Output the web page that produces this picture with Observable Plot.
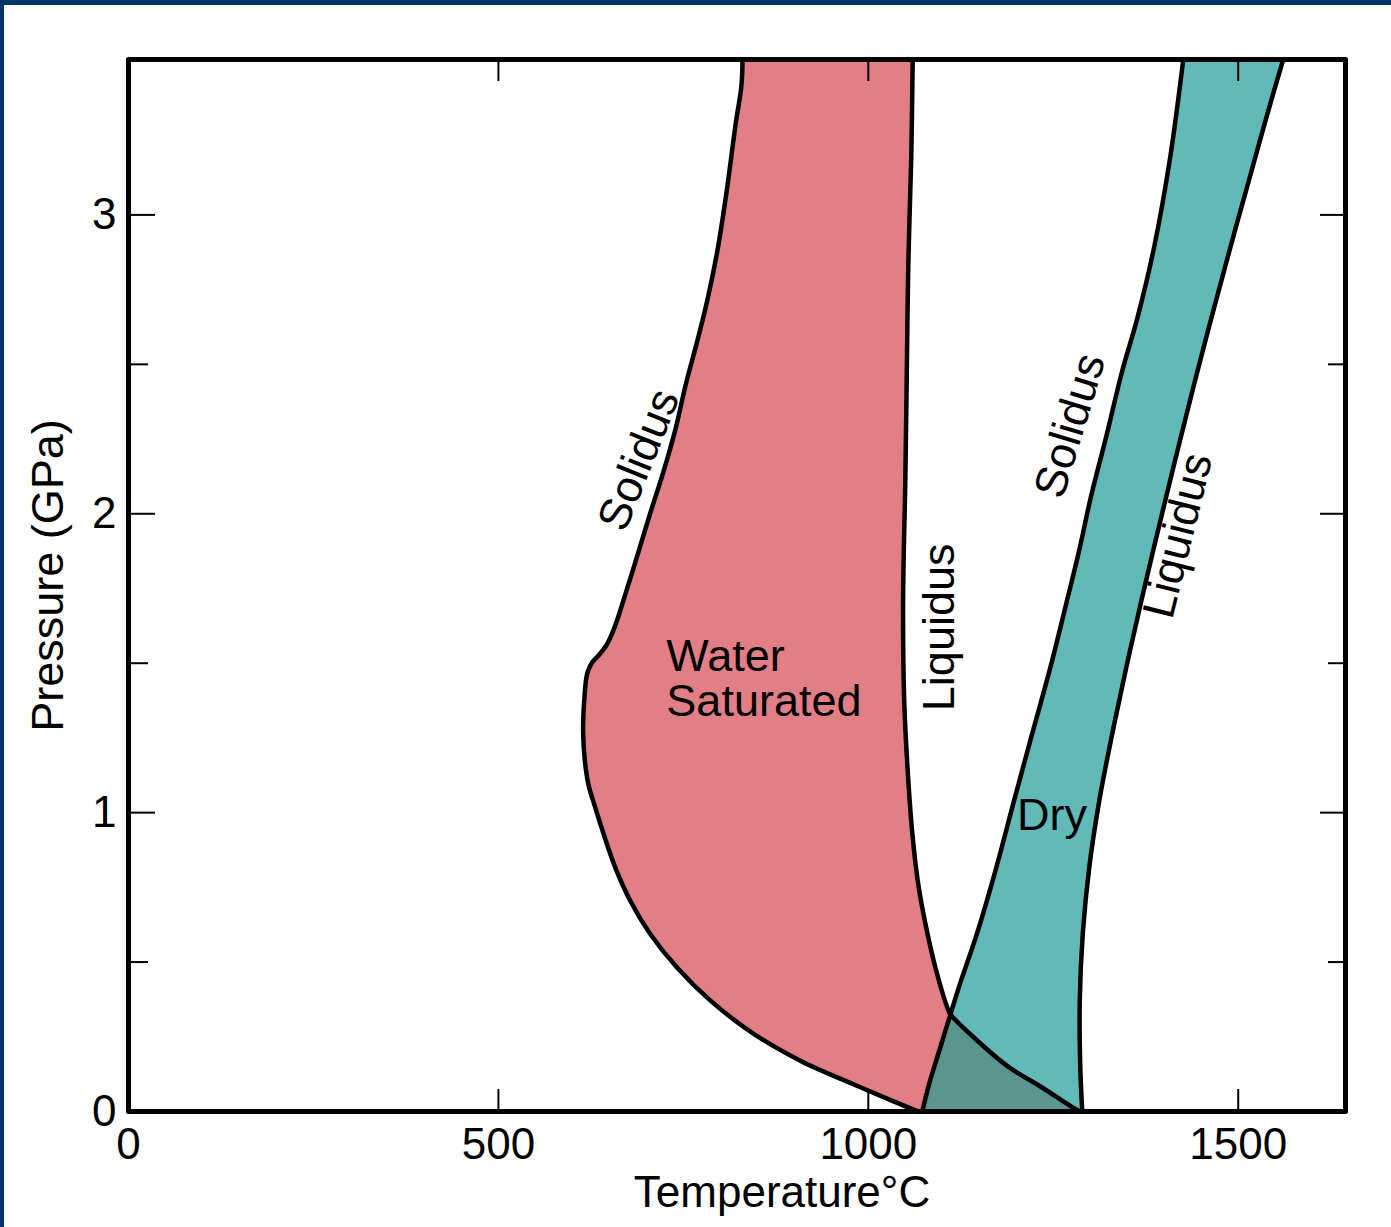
<!DOCTYPE html>
<html><head><meta charset="utf-8">
<script src="https://cdn.jsdelivr.net/npm/d3@7"></script>
<script src="https://cdn.jsdelivr.net/npm/@observablehq/plot@0.6"></script>
<style>
html,body{margin:0;padding:0;background:#fff;}
#wrap{position:relative;width:1391px;height:1227px;overflow:hidden;background:#fff;}
#chart{position:absolute;left:0;top:0;}
.bar{position:absolute;background:#003366;}
</style></head><body>
<div id="wrap"><div id="chart"></div>
<div class="bar" style="left:0;top:0;width:1391px;height:5px"></div>
<div class="bar" style="left:0;top:0;width:4px;height:1227px"></div></div>
<script>
// Axis domains and ticks
const xDomain = [0, 1645];
const yDomain = [0, 3.52];
const xTickLabels = [0, 500, 1000, 1500];
const xTicks = [500, 1000, 1500];
const yTickLabels = [0, 1, 2, 3];
const yMajorTicks = [1, 2, 3];
const yMinorTicks = [0.5, 1.5, 2.5];

// Curves: [Temperature °C, Pressure GPa]
const wetSolidus = [
  [830, 3.52], [828.4, 3.43], [821, 3.31], [808, 3.07], [796, 2.88], [782, 2.71], [768, 2.57],
  [754, 2.44], [739, 2.28], [723, 2.14], [705, 2.00], [686.5, 1.85], [669, 1.71], [657, 1.62],
  [646, 1.56], [635, 1.525], [626, 1.50], [620, 1.465], [616, 1.375], [614.5, 1.27], [617, 1.17],
  [622, 1.09], [628, 1.04], [642, 0.93], [658, 0.816], [678, 0.706], [705, 0.595], [742, 0.48],
  [787, 0.37], [845, 0.26], [908, 0.17], [979, 0.092], [1034, 0.034], [1068, 0]
];
const wetLiquidus = [
  [1060, 3.52], [1058, 3.19], [1054, 2.83], [1052, 2.47], [1050, 2.11], [1047, 1.71],
  [1048.5, 1.375], [1053, 1.15], [1059.5, 0.93], [1067.5, 0.76], [1080, 0.595], [1093, 0.46],
  [1108, 0.34], [1111, 0.325], [1146, 0.24], [1189, 0.15], [1237, 0.077], [1274, 0.017], [1286, 0]
];
const drySolidus = [
  [1073, 0], [1082.4, 0.094], [1096, 0.204], [1111, 0.325], [1124, 0.428], [1147, 0.596],
  [1173, 0.816], [1197, 1.04], [1221.6, 1.265], [1246, 1.485], [1267.6, 1.70], [1285, 1.877],
  [1301, 2.058], [1321.6, 2.258], [1343, 2.476], [1363.5, 2.653], [1386.5, 2.894], [1408, 3.192],
  [1425.7, 3.52]
];
const dryLiquidus = [
  [1560.8, 3.52], [1547.3, 3.406], [1529.7, 3.252], [1512.2, 3.095], [1495.9, 2.951],
  [1477.7, 2.784], [1459.5, 2.616], [1438.5, 2.415], [1420.3, 2.235], [1402.7, 2.058],
  [1385.1, 1.877], [1368.2, 1.70], [1348.6, 1.485], [1329.7, 1.264], [1312.2, 1.04],
  [1298.6, 0.816], [1289.9, 0.596], [1285.8, 0.371], [1286.5, 0.147], [1289.2, 0]
];
const crossP = 0.325; // where the dry solidus meets the water-saturated liquidus

// Text annotations (anchored in data units)
const curveLabels = [
  {text: "Solidus", T: 690, P: 2.18, angle: -68},
  {text: "Liquidus", T: 1097, P: 1.62, angle: -90},
  {text: "Solidus", T: 1273, P: 2.295, angle: -73},
  {text: "Liquidus", T: 1419, P: 1.927, angle: -76}
];
const regionLabels = [
  {text: "Water\nSaturated", T: 727, P: 1.325},
  {text: "Dry", T: 1201, P: 0.943}
];
const xTitle = ["Temperature°C"];
const yTitle = ["Pressure (GPa)"];

// colours
const pink = "#e17e86", teal = "#61bab8", dark = "#5a958e";

const pts = arr => arr.map(([T, P]) => ({T, P}));
const lastOf = arr => arr[arr.length - 1];
// corner points are repeated so the spline turns sharply there
const wetBand = pts([...wetSolidus, lastOf(wetSolidus), lastOf(wetLiquidus), ...wetLiquidus.slice().reverse()]);
const dryBand = pts([...drySolidus, lastOf(drySolidus), dryLiquidus[0], ...dryLiquidus]);
const lowDry = drySolidus.filter(d => d[1] <= crossP);
const overlap = pts([...lowDry, lastOf(lowDry), ...wetLiquidus.filter(d => d[1] <= crossP)]);

const W = 1391, H = 1227, mL = 128, mR = 46, mT = 59, mB = 116;
const plotW = W - mL - mR, plotH = H - mT - mB;
const font = '"Liberation Sans", Arial, Helvetica, sans-serif';

const lineOpts = {x: "T", y: "P", stroke: "#000", strokeWidth: 4.5, curve: "catmull-rom", clip: true, strokeLinejoin: "round"};
const fillOpts = c => ({x: "T", y: "P", fill: c, stroke: "none", curve: "catmull-rom", clip: true});

const chart = Plot.plot({
  width: W, height: H,
  marginLeft: mL, marginRight: mR, marginTop: mT, marginBottom: mB,
  x: {domain: xDomain, label: null, axis: null},
  y: {domain: yDomain, label: null, axis: null},
  style: {fontFamily: font, background: "transparent", color: "#000", overflow: "visible"},
  marks: [
    Plot.line(wetBand, fillOpts(pink)),
    Plot.line(dryBand, fillOpts(teal)),
    Plot.line(overlap, fillOpts(dark)),
    Plot.line(pts(wetSolidus), lineOpts),
    Plot.line(pts(wetLiquidus), lineOpts),
    Plot.line(pts(drySolidus), lineOpts),
    Plot.line(pts(dryLiquidus), lineOpts),
    // inward ticks
    Plot.tickX(xTicks, {x: d => d, insetTop: plotH - 22, stroke: "#000", strokeWidth: 2}),
    Plot.tickX(xTicks, {x: d => d, insetBottom: plotH - 22, stroke: "#000", strokeWidth: 2}),
    Plot.tickY(yMajorTicks, {y: d => d, insetRight: plotW - 27, stroke: "#000", strokeWidth: 2}),
    Plot.tickY(yMinorTicks, {y: d => d, insetRight: plotW - 20, stroke: "#000", strokeWidth: 2}),
    Plot.tickY(yMajorTicks, {y: d => d, insetLeft: plotW - 25, stroke: "#000", strokeWidth: 2}),
    Plot.tickY(yMinorTicks, {y: d => d, insetLeft: plotW - 17, stroke: "#000", strokeWidth: 2}),
    Plot.frame({stroke: "#000", strokeWidth: 5, strokeLinejoin: "round"}),
    Plot.axisX(xTickLabels, {anchor: "bottom", tickSize: 0, tickPadding: 16, fontSize: 44, label: null, tickFormat: d => `${d}`}),
    Plot.axisY(yTickLabels, {anchor: "left", tickSize: 0, tickPadding: 12, fontSize: 44, label: null, tickFormat: d => `${d}`}),
    Plot.text(curveLabels, {x: "T", y: "P", text: "text", rotate: "angle", fontSize: 45, textAnchor: "middle", lineAnchor: "middle"}),
    Plot.text(regionLabels, {x: "T", y: "P", text: "text", fontSize: 45, textAnchor: "start", lineAnchor: "bottom", lineHeight: 1}),
    Plot.text(xTitle, {frameAnchor: "bottom", dy: 95, dx: 45, fontSize: 44, textAnchor: "middle", lineAnchor: "bottom"}),
    Plot.text(yTitle, {frameAnchor: "left", dx: -80, dy: -10, rotate: -90, fontSize: 45, textAnchor: "middle", lineAnchor: "middle"})
  ]
});
document.getElementById("chart").appendChild(chart);
</script>
</body></html>
